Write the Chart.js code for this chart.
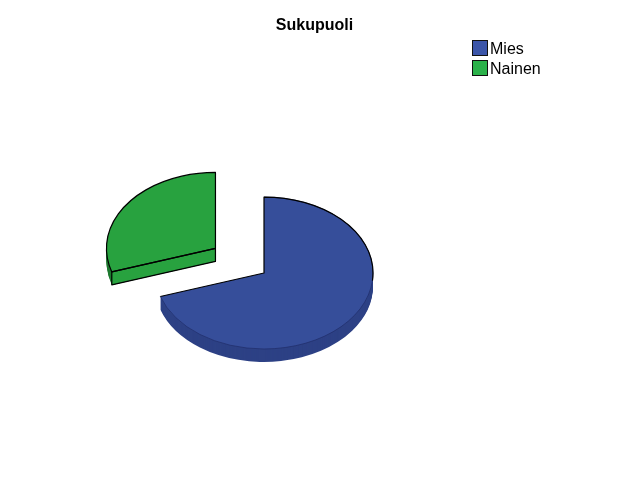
<!DOCTYPE html>
<html>
<head>
<meta charset="utf-8">
<title>Sukupuoli</title>
<script src="https://cdn.jsdelivr.net/npm/chart.js@4"></script>
<style>
    html, body { margin: 0; padding: 0; background: #fff; }
    canvas { display: block; }
</style>
</head>
<body>
<canvas id="genderPie" width="629" height="504"></canvas>
<script>
const chartTitle = 'Sukupuoli';
const categories = ['Mies', 'Nainen'];
const shares = [70, 30];

const topColors = ['#364e9a', '#28a23f'];
const wallColors = ['#2d4185', '#1f7a31'];
const swatchColors = ['#3b55a9', '#2bb24a'];
const explode = [0, 60];

// the fake 3d look: pie is squashed in y and extruded downward
const pieX = 264, pieY = 273, pieRadius = 109;
const squash = 0.697, depth = 13;

// bigger than the box: keeps it clear of the legend clip and 2px above the text middle
function swatch(color) {
    const c = document.createElement('canvas');
    c.width = 18;
    c.height = 20;
    const g = c.getContext('2d');
    g.fillStyle = color;
    g.fillRect(2, 0, 16, 16);
    g.strokeStyle = '#111';
    g.lineWidth = 1;
    g.strokeRect(2.5, 0.5, 15, 15);
    return c;
}

function applySquash(ctx, shift) {
    ctx.translate(0, pieY + shift);
    ctx.scale(1, squash);
    ctx.translate(0, -pieY);
}

function screenY(y) {
    return pieY + (y - pieY) * squash;
}

function rimPoint(arc, angle, shift) {
    return [arc.x + Math.cos(angle) * arc.outerRadius,
        screenY(arc.y + Math.sin(angle) * arc.outerRadius) + shift];
}

function rimPath(ctx, arc, from, to) {
    ctx.ellipse(arc.x, screenY(arc.y), arc.outerRadius, arc.outerRadius * squash, 0, from, to);
}

const pie3d = {
    id: 'pie3d',
    afterLayout(chart) {
        chart.legend.left = 472;
        chart.legend.top = 38;
    },
    afterDatasetsUpdate(chart) {
        chart.getDatasetMeta(0).data.forEach((arc, i) => {
            const mid = (arc.startAngle + arc.endAngle) / 2;
            arc.x = pieX + Math.cos(mid) * explode[i];
            arc.y = pieY + Math.sin(mid) * explode[i];
        });
    },
    beforeDatasetDraw(chart) {
        const ctx = chart.ctx;
        const arcs = chart.getDatasetMeta(0).data;
        for (let d = depth; d >= 1; d--) {
            arcs.forEach((arc, i) => {
                const saved = arc.options;
                arc.options = Object.assign({}, saved, { backgroundColor: wallColors[i] });
                ctx.save();
                applySquash(ctx, d);
                arc.draw(ctx);
                ctx.restore();
                arc.options = saved;
            });
        }
        ctx.save();
        applySquash(ctx, 0);
    },
    afterDatasetDraw(chart) {
        const ctx = chart.ctx;
        ctx.restore();
        const [blue, green] = chart.getDatasetMeta(0).data;

        // blue: thin dark rim, black only on the lit side
        const blueEnd = rimPoint(blue, blue.endAngle, 0);
        ctx.lineJoin = 'round';
        ctx.strokeStyle = '#1f2d68';
        ctx.lineWidth = 0.7;
        ctx.beginPath();
        rimPath(ctx, blue, blue.startAngle, blue.endAngle);
        ctx.stroke();
        ctx.strokeStyle = '#000';
        ctx.lineWidth = 1.2;
        ctx.beginPath();
        ctx.moveTo(blueEnd[0], blueEnd[1]);
        ctx.lineTo(blue.x, screenY(blue.y));
        rimPath(ctx, blue, blue.startAngle, 0.1);
        ctx.stroke();

        // green: front cut face stays bright, everything outlined
        const a = rimPoint(green, green.startAngle, 0);
        const b = rimPoint(green, green.startAngle, depth);
        const apexY = screenY(green.y);
        ctx.fillStyle = topColors[1];
        ctx.beginPath();
        ctx.moveTo(a[0], a[1]);
        ctx.lineTo(green.x, apexY);
        ctx.lineTo(green.x, apexY + depth);
        ctx.lineTo(b[0], b[1]);
        ctx.closePath();
        ctx.fill();
        ctx.stroke();
        ctx.beginPath();
        rimPath(ctx, green, green.startAngle, green.endAngle);
        ctx.lineTo(green.x, apexY);
        ctx.closePath();
        ctx.stroke();
    }
};

new Chart(document.getElementById('genderPie'), {
    type: 'pie',
    data: {
        labels: categories,
        datasets: [{
            data: shares,
            backgroundColor: topColors,
            borderWidth: 0,
            radius: pieRadius
        }]
    },
    options: {
        responsive: false,
        animation: false,
        plugins: {
            title: {
                display: true,
                text: chartTitle,
                color: '#000',
                font: { family: '"Liberation Sans", Arial', size: 16, weight: 'bold' },
                padding: { top: 16, bottom: 6 }
            },
            legend: {
                position: 'right',
                align: 'start',
                labels: {
                    color: '#000',
                    font: { family: '"Liberation Sans", Arial', size: 16 },
                    boxWidth: 6,
                    padding: 4,
                    usePointStyle: true,
                    generateLabels: () => categories.map((name, i) => ({
                        text: name,
                        pointStyle: swatch(swatchColors[i]),
                        fontColor: '#000',
                        index: i
                    }))
                }
            },
            tooltip: { enabled: false }
        }
    },
    plugins: [pie3d]
});
</script>
</body>
</html>
